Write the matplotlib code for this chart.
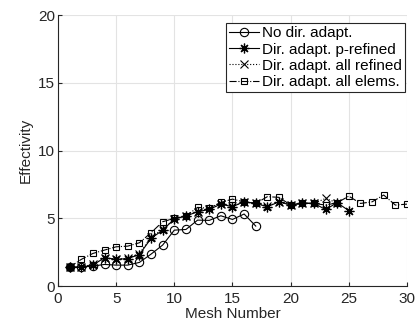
import matplotlib.pyplot as plt
import numpy as np

plt.rcParams['font.family'] = ['Liberation Sans', 'DejaVu Sans']

# Data
mesh_no = list(range(1, 18))
eff_no = [1.38, 1.4, 1.48, 1.6, 1.55, 1.55, 1.75, 2.36, 3.03, 4.13, 4.18,
          4.87, 4.85, 5.19, 4.92, 5.32, 4.43]

mesh_p = list(range(1, 26))
eff_p = [1.4, 1.4, 1.55, 2.1, 1.98, 2.03, 2.33, 3.52, 4.13, 4.95, 5.17,
         5.49, 5.66, 6.05, 5.86, 6.23, 6.1, 5.86, 6.22, 5.98, 6.1, 6.1,
         5.66, 6.15, 5.57]

mesh_all = list(range(1, 25))
eff_all = [1.4, 1.42, 1.6, 2.05, 2.0, 2.05, 2.4, 3.6, 4.2, 4.95, 5.2,
           5.5, 5.7, 6.05, 5.9, 6.2, 6.1, 5.9, 6.2, 6.0, 6.1, 6.1,
           6.47, 6.15]

mesh_el = list(range(1, 31))
eff_el = [1.4, 1.97, 2.41, 2.66, 2.9, 2.95, 3.2, 3.94, 4.75, 5.0, 5.17,
          5.81, 5.74, 6.18, 6.42, 6.22, 6.1, 6.6, 6.55, 5.98, 6.15, 6.1,
          5.98, 6.15, 6.64, 6.1, 6.22, 6.72, 5.98, 6.05]

fig = plt.figure(figsize=(4.17, 3.27), dpi=100)
ax = fig.add_axes([0.139, 0.125, 0.837, 0.829])

ax.plot(mesh_no, eff_no, 'k-', marker='o', mfc='none', ms=6, lw=0.8, mew=0.8,
        label='No dir. adapt.')
ax.plot(mesh_p, eff_p, 'k-', marker=(8, 2, 0), ms=7, lw=0.8, mew=0.9,
        label='Dir. adapt. p-refined')
ax.plot(mesh_all, eff_all, 'k:', marker='x', ms=6, lw=0.8, mew=0.8,
        label='Dir. adapt. all refined')
ax.plot(mesh_el, eff_el, 'k-.', marker='s', mfc='none', ms=5, lw=0.8, mew=0.8,
        label='Dir. adapt. all elems.')

ax.set_xlim(0, 30)
ax.set_ylim(0, 20)
ax.set_xticks([0, 5, 10, 15, 20, 25, 30])
ax.set_yticks([0, 5, 10, 15, 20])
ax.set_xlabel('Mesh Number', fontsize=11, color='#262626', labelpad=1)
ax.set_ylabel('Effectivity', fontsize=11, color='#262626', labelpad=4)
ax.tick_params(direction='in', labelsize=11, colors='#262626', length=3, pad=2)
ax.tick_params(axis='x', pad=4)
ax.grid(True, color='#e3e3e3', lw=0.8)
ax.set_axisbelow(True)
for s in ['top', 'right']:
    ax.spines[s].set_visible(False)
for s in ['left', 'bottom']:
    ax.spines[s].set_color('#262626')
    ax.spines[s].set_linewidth(0.8)

leg = ax.legend(loc='upper right', fontsize=11, frameon=True, fancybox=False,
                edgecolor='#262626', handlelength=2.0, handletextpad=0.2,
                borderpad=0.2, labelspacing=0.15, borderaxespad=0.0,
                bbox_to_anchor=(0.995, 0.97))
leg.get_frame().set_linewidth(0.8)
leg.get_frame().set_alpha(1)

fig.savefig('out.png', dpi=100)
